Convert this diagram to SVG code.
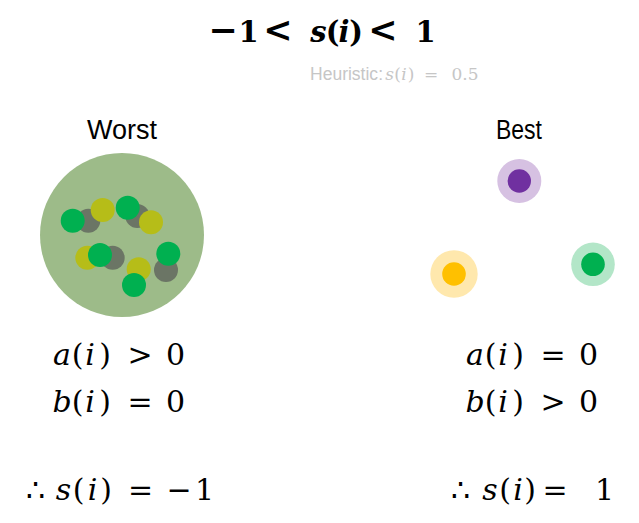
<svg xmlns="http://www.w3.org/2000/svg" width="639" height="523" viewBox="0 0 639 523">
<style>
.math{font-family:"DejaVu Serif",serif;fill:#000;text-anchor:middle}
.it{font-style:italic}
.big{font-size:35px}
.lbl{font-family:"Liberation Sans",Arial,sans-serif;font-size:27px;fill:#000;text-anchor:middle}
.eq{font-size:30px}
.gy{fill:#6b7565}.yl{fill:#b6bd18}.gr{fill:#00b050}
</style>
<rect width="639" height="523" fill="#fff"/>
<g id="title">
<text class="math" font-size="29" font-weight="bold" y="42"><tspan x="223" class="big">−</tspan><tspan x="248.5">1</tspan><tspan x="278" class="big">&lt;</tspan><tspan x="318.5" class="it">s</tspan><tspan x="332.5">(</tspan><tspan x="344" class="it">i</tspan><tspan x="356">)</tspan><tspan x="383" class="big">&lt;</tspan><tspan x="425.5">1</tspan></text>
</g>
<g id="heuristic">
<text x="310" y="80" font-family="Liberation Sans,Arial,sans-serif" font-size="18" fill="#c6c6c6" textLength="73" lengthAdjust="spacingAndGlyphs">Heuristic:</text>
<text class="math" font-size="17" y="80" style="fill:#c6c6c6"><tspan x="389.7" class="it">s</tspan><tspan x="397.5">(</tspan><tspan x="404" class="it">i</tspan><tspan x="411">)</tspan><tspan x="431">=</tspan><tspan x="465">0.5</tspan></text>
</g>
<g id="worst">
<text class="lbl" x="122" y="139">Worst</text>
<circle cx="122" cy="235" r="82" fill="#9dbb89"/>
<circle class="gy" cx="88.3" cy="220.7" r="12"/>
<circle class="gy" cx="137.3" cy="216" r="12"/>
<circle class="gy" cx="112.7" cy="257.7" r="12"/>
<circle class="gy" cx="166" cy="270" r="12"/>
<circle class="yl" cx="102.7" cy="210" r="12"/>
<circle class="yl" cx="151" cy="222.3" r="12"/>
<circle class="yl" cx="87.3" cy="257.7" r="12"/>
<circle class="yl" cx="138.7" cy="269.3" r="12"/>
<circle class="gr" cx="72.7" cy="220.7" r="12"/>
<circle class="gr" cx="127.7" cy="207.7" r="12"/>
<circle class="gr" cx="100" cy="255" r="12"/>
<circle class="gr" cx="134" cy="285" r="12"/>
<circle class="gr" cx="168.3" cy="253.7" r="12"/>
</g>
<g id="best">
<text class="lbl" x="519" y="139" textLength="46" lengthAdjust="spacingAndGlyphs">Best</text>
<circle cx="519.3" cy="181" r="22" fill="#d6c1e2"/>
<circle cx="519.3" cy="181" r="11.7" fill="#7030a0"/>
<circle cx="454" cy="274" r="23.7" fill="#ffe8ad"/>
<circle cx="454" cy="274" r="11.8" fill="#ffc000"/>
<circle cx="593" cy="264.3" r="21.8" fill="#b3e6c8"/>
<circle cx="593" cy="264.3" r="11.8" fill="#00b050"/>
</g>
<g id="worst-eqs">
<text class="math eq" y="365"><tspan x="62" class="it">a</tspan><tspan x="77.5">(</tspan><tspan x="90" class="it">i</tspan><tspan x="105">)</tspan><tspan x="140">&gt;</tspan><tspan x="175.5">0</tspan></text>
<text class="math eq" y="412"><tspan x="62" class="it">b</tspan><tspan x="77.5">(</tspan><tspan x="90" class="it">i</tspan><tspan x="105">)</tspan><tspan x="140">=</tspan><tspan x="175.5">0</tspan></text>
<text class="math eq" y="500"><tspan x="35">∴</tspan><tspan x="63.5" class="it">s</tspan><tspan x="78.5">(</tspan><tspan x="92.5" class="it">i</tspan><tspan x="106">)</tspan><tspan x="140.5">=</tspan><tspan x="179">−</tspan><tspan x="204.5">1</tspan></text>
</g>
<g id="best-eqs">
<text class="math eq" y="365"><tspan x="475" class="it">a</tspan><tspan x="490.5">(</tspan><tspan x="503" class="it">i</tspan><tspan x="518">)</tspan><tspan x="553">=</tspan><tspan x="588.5">0</tspan></text>
<text class="math eq" y="412"><tspan x="475" class="it">b</tspan><tspan x="490.5">(</tspan><tspan x="503" class="it">i</tspan><tspan x="518">)</tspan><tspan x="553">&gt;</tspan><tspan x="588.5">0</tspan></text>
<text class="math eq" y="500"><tspan x="460">∴</tspan><tspan x="490" class="it">s</tspan><tspan x="505">(</tspan><tspan x="518" class="it">i</tspan><tspan x="530">)</tspan><tspan x="555">=</tspan><tspan x="604.5">1</tspan></text>
</g>
</svg>
